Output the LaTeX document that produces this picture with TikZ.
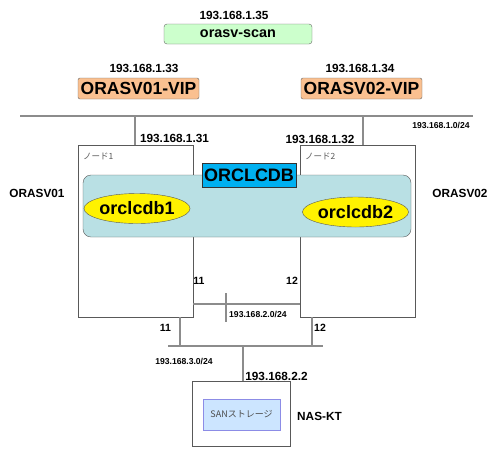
\documentclass[tikz,border=0pt]{standalone}
\usepackage{fontspec}
\setmainfont{Liberation Sans}
\newfontfamily\jpfont{Noto Sans CJK JP}
\usetikzlibrary{shapes.geometric}
\definecolor{scanfill}{HTML}{CCFFCC}
\definecolor{vipfill}{HTML}{FAC090}
\definecolor{dbfill}{HTML}{00B0F0}
\definecolor{racfill}{HTML}{B9E0E4}
\definecolor{sanfill}{HTML}{CCE5FF}
\definecolor{sanline}{HTML}{8C8CE6}
\begin{document}
\begin{tikzpicture}[x=1pt, y=-1pt, every node/.style = {inner sep=0pt}, ip/.style = {font=\bfseries\fontsize{11.8}{13}\selectfont}, small ip/.style = {font=\bfseries\fontsize{8.6}{10}\selectfont}, port/.style = {font=\bfseries\fontsize{10.5}{12}\selectfont}, host/.style = {font=\bfseries\fontsize{11.8}{13}\selectfont}, vip/.style = {shape=rectangle, rounded corners=2pt, draw=black!60, fill=vipfill, minimum width=121pt, minimum height=21pt, font=\bfseries\fontsize{17.5}{19}\selectfont}, srv/.style = {shape=rectangle, draw=black!65, fill=white, minimum width=115pt, minimum height=172pt}, inst/.style = {shape=ellipse, draw=black!65, fill=yellow, minimum height=30pt, font=\bfseries\fontsize{18}{20}\selectfont}, net/.style = {draw=black!85, double=black!45, double distance=1.1pt, line width=0.8pt}]
\useasboundingbox (0,0) rectangle (500,451);
\node[ip] (scanip) at (234,15) {193.168.1.35};
\node[shape=rectangle, rounded corners=3pt, draw=black!60, fill=scanfill, minimum width=148pt, minimum height=20pt, font=\bfseries\fontsize{14.4}{16}\selectfont] (scan) at (238,34) {orasv-scan};
\node[ip] (vip1ip) at (144,68) {193.168.1.33};
\node[vip] (vip1) at (138.5,88.5) {ORASV01-VIP};
\node[ip] (vip2ip) at (360,68) {193.168.1.34};
\node[vip] (vip2) at (361.5,88.5) {ORASV02-VIP};
\coordinate (pubL) at (20,116);
\coordinate (pubR) at (473,116);
\coordinate (pub1) at (135,116);
\coordinate (pub2) at (363,116);
\node[small ip] (pubnet) at (441,125) {193.168.1.0/24};
\node[srv] (n1) at (135.5,231) {};
\node[srv] (n2) at (357.5,231) {};
\draw[net] (pub1) -- (pub1 |- n1.north);
\draw[net] (pub2) -- (pub2 |- n2.north);
\draw[net] (pubL) -- (pubR);
\node[ip] (n1ip) at (174.5,138) {193.168.1.31};
\node[ip] (n2ip) at (320,139) {193.168.1.32};
\node[font=\jpfont\fontsize{8.5}{9}\selectfont, text=black!65, anchor=west] (n1name) at (83,156) {ノード1};
\node[font=\jpfont\fontsize{8.5}{9}\selectfont, text=black!65, anchor=west] (n2name) at (305,156) {ノード2};
\node[host] (h1) at (37,193) {ORASV01};
\node[host] (h2) at (460,193) {ORASV02};
\node[shape=rectangle, rounded corners=8pt, draw=black!65, fill=racfill, minimum width=328pt, minimum height=62pt] (rac) at (247,206) {};
\node[shape=rectangle, draw=black!80, fill=dbfill, minimum width=94pt, minimum height=24pt, font=\bfseries\fontsize{18}{20}\selectfont] (cdb) at (249,175) {ORCLCDB};
\node[inst, minimum width=98pt] (db1) at (137,208.5) {orclcdb1};
\node[inst, minimum width=97pt] (db2) at (355.5,212) {orclcdb2};
\node[port] (p11) at (199,281) {11};
\node[port] (p12) at (292,281) {12};
\coordinate (ic) at (226,304);
\coordinate (icT) at (226,293);
\coordinate (icB) at (226,322);
\draw[net] (ic -| n1.east) -- (ic -| n2.west);
\draw[net] (icT) -- (icB);
\node[small ip, anchor=west] (icnet) at (229,314) {193.168.2.0/24};
\node[port] (q11) at (165.5,328) {11};
\node[port] (q12) at (320,328) {12};
\coordinate (sanL) at (168,346);
\coordinate (sanR) at (323,346);
\coordinate (san1) at (180,346);
\coordinate (san2) at (312,346);
\coordinate (sanN) at (243,346);
\draw[net] (san1 |- n1.south) -- (san1);
\draw[net] (san2 |- n2.south) -- (san2);
\node[shape=rectangle, draw=black!65, fill=white, minimum width=98pt, minimum height=65pt] (nas) at (241,413.5) {};
\draw[net] (sanN) -- (sanN |- nas.north);
\draw[net] (sanL) -- (sanR);
\node[small ip] (sannet) at (184,361) {193.168.3.0/24};
\node[ip] (nasip) at (276.5,376) {193.168.2.2};
\node[shape=rectangle, draw=sanline, fill=sanfill, minimum width=77pt, minimum height=31pt, font=\jpfont\fontsize{9}{10}\selectfont, text=black!70] (san) at (241.5,414.5) {SANストレージ};
\node[host] (nasname) at (319.5,416) {NAS-KT};
\end{tikzpicture}
\end{document}
